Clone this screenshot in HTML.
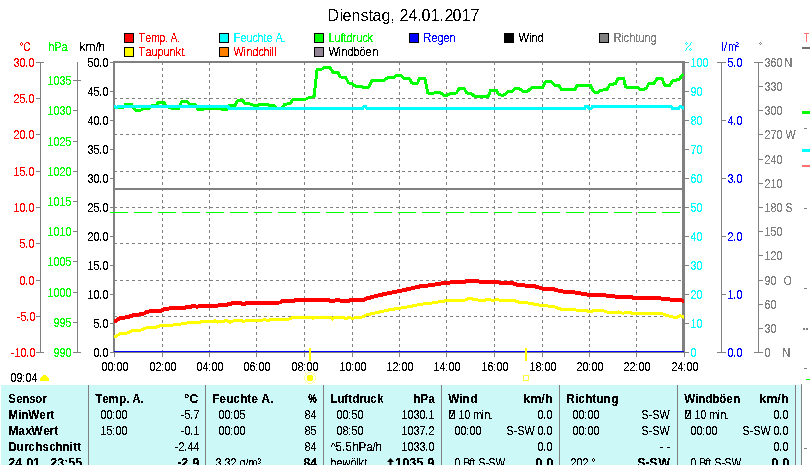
<!DOCTYPE html>
<html><head><meta charset="utf-8"><title>Dienstag, 24.01.2017</title>
<style>
html,body{margin:0;padding:0;background:#fff;}
body{width:810px;height:465px;overflow:hidden;}
svg{display:block;font-family:"Liberation Sans",sans-serif;}
text{white-space:pre;}
</style></head><body>
<svg width="810" height="465" viewBox="0 0 810 465">
<defs><filter id="crisp" x="-5%" y="-50%" width="110%" height="200%" color-interpolation-filters="sRGB"><feComponentTransfer><feFuncA type="discrete" tableValues="0 0 1 1 1"/></feComponentTransfer></filter><filter id="crisp5" x="-5%" y="-50%" width="110%" height="200%" color-interpolation-filters="sRGB"><feComponentTransfer><feFuncA type="discrete" tableValues="0 1"/></feComponentTransfer></filter></defs>
<rect width="810" height="465" fill="#fff"/>
<text transform="translate(327.50,21.00) scale(1.0000,1)" x="0.000 12.000 15.000 24.000 33.000 41.000 45.000 54.000 63.000 68.000 72.000 81.000 90.000 94.000 103.000 112.000 117.000 125.000 134.000 143.000" y="0" fill="#000" font-size="16" filter="url(#crisp5)">Dienstag, 24.01.2017</text>
<rect x="124" y="33" width="10" height="10" fill="#000"/>
<rect x="125" y="34" width="8" height="8" fill="#ff0000"/>
<text transform="translate(138.50,42.00) scale(0.8550,1)" x="0.000 8.187 15.205 24.561 31.579 35.088 37.427 45.614" y="0" fill="#ff0000" font-size="12" filter="url(#crisp5)" stroke="#ff0000" stroke-width="0.15">Temp. A.</text>
<rect x="124" y="47" width="10" height="10" fill="#000"/>
<rect x="125" y="48" width="8" height="8" fill="#ffff00"/>
<text transform="translate(138.50,56.00) scale(0.9150,1)" x="0.000 7.650 14.208 20.765 27.322 33.880 40.437 46.995" y="0" fill="#ff0000" font-size="12" filter="url(#crisp5)" stroke="#ff0000" stroke-width="0.15">Taupunkt</text>
<rect x="219" y="33" width="10" height="10" fill="#000"/>
<rect x="220" y="34" width="8" height="8" fill="#00ffff"/>
<text transform="translate(233.50,42.00) scale(0.9000,1)" x="0.000 7.778 14.444 21.111 26.667 33.333 36.667 43.333 46.667 54.444" y="0" fill="#00ffff" font-size="12" filter="url(#crisp5)" stroke="#00ffff" stroke-width="0.15">Feuchte A.</text>
<rect x="219" y="47" width="10" height="10" fill="#000"/>
<rect x="220" y="48" width="8" height="8" fill="#ff8000"/>
<text transform="translate(233.50,56.00) scale(0.9000,1)" x="0.000 11.111 14.444 21.111 27.778 33.333 40.000 42.222 45.556" y="0" fill="#ff0000" font-size="12" filter="url(#crisp5)" stroke="#ff0000" stroke-width="0.15">Windchill</text>
<rect x="314" y="33" width="10" height="10" fill="#000"/>
<rect x="315" y="34" width="8" height="8" fill="#00ff00"/>
<text transform="translate(328.50,42.00) scale(0.9000,1)" x="0.000 6.667 13.333 16.667 20.000 26.667 31.111 37.778 43.333" y="0" fill="#00ff00" font-size="12" filter="url(#crisp5)" stroke="#00ff00" stroke-width="0.15">Luftdruck</text>
<rect x="314" y="47" width="10" height="10" fill="#000"/>
<rect x="315" y="48" width="8" height="8" fill="#928494"/>
<text transform="translate(328.50,56.00) scale(0.9200,1)" x="0.000 10.870 14.130 20.652 27.174 33.696 40.217 47.826" y="0" fill="#000000" font-size="12" filter="url(#crisp5)" stroke="#000000" stroke-width="0.15">Windböen</text>
<rect x="409" y="33" width="10" height="10" fill="#000"/>
<rect x="410" y="34" width="8" height="8" fill="#0000ff"/>
<text transform="translate(423.50,42.00) scale(0.9000,1)" x="0.000 8.889 15.556 22.222 28.889" y="0" fill="#0000ff" font-size="12" filter="url(#crisp5)" stroke="#0000ff" stroke-width="0.15">Regen</text>
<rect x="504" y="33" width="10" height="10" fill="#000"/>
<rect x="505" y="34" width="8" height="8" fill="#000000"/>
<text transform="translate(518.50,42.00) scale(0.9400,1)" x="0.000 11.702 13.830 20.213" y="0" fill="#000000" font-size="12" filter="url(#crisp5)" stroke="#000000" stroke-width="0.15">Wind</text>
<rect x="599" y="33" width="10" height="10" fill="#000"/>
<rect x="600" y="34" width="8" height="8" fill="#808080"/>
<text transform="translate(613.50,42.00) scale(0.9150,1)" x="0.000 8.743 10.929 17.486 24.044 27.322 33.880 40.437" y="0" fill="#808080" font-size="12" filter="url(#crisp5)" stroke="#808080" stroke-width="0.15">Richtung</text>
<text transform="translate(19.50,51.00) scale(0.8000,1)" x="0.000 5.000" y="0" fill="#ff0000" font-size="12" filter="url(#crisp5)" stroke="#ff0000" stroke-width="0.15">°C</text>
<text transform="translate(48.50,51.00) scale(0.9000,1)" x="0.000 6.667 14.444" y="0" fill="#00ff00" font-size="12" filter="url(#crisp5)" stroke="#00ff00" stroke-width="0.15">hPa</text>
<text transform="translate(79.50,51.00) scale(1.0000,1)" x="0.000 6.000 16.000 19.000" y="0" fill="#000" font-size="12" filter="url(#crisp5)" stroke="#000" stroke-width="0.15">km/h</text>
<rect x="40" y="62" width="1" height="291" fill="#808080"/>
<rect x="36" y="62" width="8" height="1" fill="#808080"/>
<text transform="translate(13.50,67.00) scale(0.9000,1)" x="0.000 6.667 12.889 16.667" y="0" fill="#ff0000" font-size="12" filter="url(#crisp5)" stroke="#ff0000" stroke-width="0.15">30.0</text>
<rect x="36" y="98" width="4" height="1" fill="#808080"/>
<text transform="translate(13.50,103.00) scale(0.9000,1)" x="0.000 6.667 12.889 16.667" y="0" fill="#ff0000" font-size="12" filter="url(#crisp5)" stroke="#ff0000" stroke-width="0.15">25.0</text>
<rect x="36" y="134" width="4" height="1" fill="#808080"/>
<text transform="translate(13.50,139.00) scale(0.9000,1)" x="0.000 6.667 12.889 16.667" y="0" fill="#ff0000" font-size="12" filter="url(#crisp5)" stroke="#ff0000" stroke-width="0.15">20.0</text>
<rect x="36" y="171" width="4" height="1" fill="#808080"/>
<text transform="translate(13.50,176.00) scale(0.9000,1)" x="0.000 6.667 12.889 16.667" y="0" fill="#ff0000" font-size="12" filter="url(#crisp5)" stroke="#ff0000" stroke-width="0.15">15.0</text>
<rect x="36" y="207" width="4" height="1" fill="#808080"/>
<text transform="translate(13.50,212.00) scale(0.9000,1)" x="0.000 6.667 12.889 16.667" y="0" fill="#ff0000" font-size="12" filter="url(#crisp5)" stroke="#ff0000" stroke-width="0.15">10.0</text>
<rect x="36" y="243" width="4" height="1" fill="#808080"/>
<text transform="translate(19.50,248.00) scale(0.9000,1)" x="0.000 6.222 10.000" y="0" fill="#ff0000" font-size="12" filter="url(#crisp5)" stroke="#ff0000" stroke-width="0.15">5.0</text>
<rect x="36" y="280" width="4" height="1" fill="#808080"/>
<text transform="translate(19.50,285.00) scale(0.9000,1)" x="0.000 6.222 10.000" y="0" fill="#ff0000" font-size="12" filter="url(#crisp5)" stroke="#ff0000" stroke-width="0.15">0.0</text>
<rect x="36" y="316" width="4" height="1" fill="#808080"/>
<text transform="translate(16.50,321.00) scale(0.9000,1)" x="0.000 4.444 10.667 14.444" y="0" fill="#ff0000" font-size="12" filter="url(#crisp5)" stroke="#ff0000" stroke-width="0.15">-5.0</text>
<rect x="36" y="352" width="8" height="1" fill="#808080"/>
<text transform="translate(10.50,357.00) scale(0.9000,1)" x="0.000 4.444 11.111 17.333 21.111" y="0" fill="#ff0000" font-size="12" filter="url(#crisp5)" stroke="#ff0000" stroke-width="0.15">-10.0</text>
<rect x="77" y="62" width="1" height="291" fill="#808080"/>
<rect x="73" y="80" width="8" height="1" fill="#808080"/>
<text transform="translate(47.50,85.00) scale(0.9000,1)" x="0.000 6.667 13.333 20.000" y="0" fill="#00ff00" font-size="12" filter="url(#crisp5)" stroke="#00ff00" stroke-width="0.15">1035</text>
<rect x="73" y="110" width="4" height="1" fill="#808080"/>
<text transform="translate(47.50,115.00) scale(0.9000,1)" x="0.000 6.667 13.333 20.000" y="0" fill="#00ff00" font-size="12" filter="url(#crisp5)" stroke="#00ff00" stroke-width="0.15">1030</text>
<rect x="73" y="141" width="4" height="1" fill="#808080"/>
<text transform="translate(47.50,146.00) scale(0.9000,1)" x="0.000 6.667 13.333 20.000" y="0" fill="#00ff00" font-size="12" filter="url(#crisp5)" stroke="#00ff00" stroke-width="0.15">1025</text>
<rect x="73" y="171" width="4" height="1" fill="#808080"/>
<text transform="translate(47.50,176.00) scale(0.9000,1)" x="0.000 6.667 13.333 20.000" y="0" fill="#00ff00" font-size="12" filter="url(#crisp5)" stroke="#00ff00" stroke-width="0.15">1020</text>
<rect x="73" y="201" width="4" height="1" fill="#808080"/>
<text transform="translate(47.50,206.00) scale(0.9000,1)" x="0.000 6.667 13.333 20.000" y="0" fill="#00ff00" font-size="12" filter="url(#crisp5)" stroke="#00ff00" stroke-width="0.15">1015</text>
<rect x="73" y="231" width="4" height="1" fill="#808080"/>
<text transform="translate(47.50,236.00) scale(0.9000,1)" x="0.000 6.667 13.333 20.000" y="0" fill="#00ff00" font-size="12" filter="url(#crisp5)" stroke="#00ff00" stroke-width="0.15">1010</text>
<rect x="73" y="261" width="4" height="1" fill="#808080"/>
<text transform="translate(47.50,266.00) scale(0.9000,1)" x="0.000 6.667 13.333 20.000" y="0" fill="#00ff00" font-size="12" filter="url(#crisp5)" stroke="#00ff00" stroke-width="0.15">1005</text>
<rect x="73" y="292" width="4" height="1" fill="#808080"/>
<text transform="translate(47.50,297.00) scale(0.9000,1)" x="0.000 6.667 13.333 20.000" y="0" fill="#00ff00" font-size="12" filter="url(#crisp5)" stroke="#00ff00" stroke-width="0.15">1000</text>
<rect x="73" y="322" width="4" height="1" fill="#808080"/>
<text transform="translate(53.50,327.00) scale(0.9000,1)" x="0.000 6.667 13.333" y="0" fill="#00ff00" font-size="12" filter="url(#crisp5)" stroke="#00ff00" stroke-width="0.15">995</text>
<rect x="73" y="352" width="8" height="1" fill="#808080"/>
<text transform="translate(53.50,357.00) scale(0.9000,1)" x="0.000 6.667 13.333" y="0" fill="#00ff00" font-size="12" filter="url(#crisp5)" stroke="#00ff00" stroke-width="0.15">990</text>
<rect x="110" y="62" width="3" height="1" fill="#808080"/>
<text transform="translate(87.50,67.00) scale(0.9000,1)" x="0.000 6.667 12.889 16.667" y="0" fill="#000" font-size="12" filter="url(#crisp5)" stroke="#000" stroke-width="0.15">50.0</text>
<rect x="110" y="91" width="3" height="1" fill="#808080"/>
<text transform="translate(87.50,96.00) scale(0.9000,1)" x="0.000 6.667 12.889 16.667" y="0" fill="#000" font-size="12" filter="url(#crisp5)" stroke="#000" stroke-width="0.15">45.0</text>
<rect x="110" y="120" width="3" height="1" fill="#808080"/>
<text transform="translate(87.50,125.00) scale(0.9000,1)" x="0.000 6.667 12.889 16.667" y="0" fill="#000" font-size="12" filter="url(#crisp5)" stroke="#000" stroke-width="0.15">40.0</text>
<rect x="110" y="149" width="3" height="1" fill="#808080"/>
<text transform="translate(87.50,154.00) scale(0.9000,1)" x="0.000 6.667 12.889 16.667" y="0" fill="#000" font-size="12" filter="url(#crisp5)" stroke="#000" stroke-width="0.15">35.0</text>
<rect x="110" y="178" width="3" height="1" fill="#808080"/>
<text transform="translate(87.50,183.00) scale(0.9000,1)" x="0.000 6.667 12.889 16.667" y="0" fill="#000" font-size="12" filter="url(#crisp5)" stroke="#000" stroke-width="0.15">30.0</text>
<rect x="110" y="207" width="3" height="1" fill="#808080"/>
<text transform="translate(87.50,212.00) scale(0.9000,1)" x="0.000 6.667 12.889 16.667" y="0" fill="#000" font-size="12" filter="url(#crisp5)" stroke="#000" stroke-width="0.15">25.0</text>
<rect x="110" y="236" width="3" height="1" fill="#808080"/>
<text transform="translate(87.50,241.00) scale(0.9000,1)" x="0.000 6.667 12.889 16.667" y="0" fill="#000" font-size="12" filter="url(#crisp5)" stroke="#000" stroke-width="0.15">20.0</text>
<rect x="110" y="265" width="3" height="1" fill="#808080"/>
<text transform="translate(87.50,270.00) scale(0.9000,1)" x="0.000 6.667 12.889 16.667" y="0" fill="#000" font-size="12" filter="url(#crisp5)" stroke="#000" stroke-width="0.15">15.0</text>
<rect x="110" y="294" width="3" height="1" fill="#808080"/>
<text transform="translate(87.50,299.00) scale(0.9000,1)" x="0.000 6.667 12.889 16.667" y="0" fill="#000" font-size="12" filter="url(#crisp5)" stroke="#000" stroke-width="0.15">10.0</text>
<rect x="110" y="323" width="3" height="1" fill="#808080"/>
<text transform="translate(93.50,328.00) scale(0.9000,1)" x="0.000 6.222 10.000" y="0" fill="#000" font-size="12" filter="url(#crisp5)" stroke="#000" stroke-width="0.15">5.0</text>
<rect x="110" y="352" width="3" height="1" fill="#808080"/>
<text transform="translate(93.50,357.00) scale(0.9000,1)" x="0.000 6.222 10.000" y="0" fill="#000" font-size="12" filter="url(#crisp5)" stroke="#000" stroke-width="0.15">0.0</text>
<path d="M686 42h1v1h-1zM691 42h1v1h-1zM685 43h1v1h-1zM687 43h1v1h-1zM690 43h1v1h-1zM686 44h1v1h-1zM690 44h1v1h-1zM689 45h1v1h-1zM688 46h1v1h-1zM687 47h1v1h-1zM686 48h1v1h-1zM690 48h1v1h-1zM686 49h1v1h-1zM689 49h1v1h-1zM691 49h1v1h-1zM685 50h1v1h-1zM690 50h1v1h-1z" fill="#00ffff" shape-rendering="crispEdges"/>
<path d="M722 42h1v1h-1zM726 42h1v1h-1zM736 42h2v1h-2zM722 43h1v1h-1zM726 43h1v1h-1zM738 43h1v1h-1zM722 44h1v1h-1zM726 44h1v1h-1zM729 44h3v1h-3zM733 44h2v1h-2zM737 44h1v1h-1zM722 45h1v1h-1zM725 45h1v1h-1zM729 45h1v1h-1zM732 45h1v1h-1zM735 45h2v1h-2zM722 46h1v1h-1zM725 46h1v1h-1zM729 46h1v1h-1zM732 46h1v1h-1zM735 46h4v1h-4zM722 47h1v1h-1zM725 47h1v1h-1zM729 47h1v1h-1zM732 47h1v1h-1zM735 47h1v1h-1zM722 48h1v1h-1zM724 48h1v1h-1zM729 48h1v1h-1zM732 48h1v1h-1zM735 48h1v1h-1zM722 49h1v1h-1zM724 49h1v1h-1zM729 49h1v1h-1zM732 49h1v1h-1zM735 49h1v1h-1zM722 50h1v1h-1zM724 50h1v1h-1zM729 50h1v1h-1zM732 50h1v1h-1zM735 50h1v1h-1z" fill="#0000ff" shape-rendering="crispEdges"/>
<path d="M760 42h1v1h-1zM759 43h1v1h-1zM761 43h1v1h-1zM760 44h1v1h-1z" fill="#808080" shape-rendering="crispEdges"/>
<rect x="685" y="62" width="4" height="1" fill="#808080"/>
<text transform="translate(690.50,67.00) scale(0.9000,1)" x="0.000 6.667 13.333" y="0" fill="#00ffff" font-size="12" filter="url(#crisp5)" stroke="#00ffff" stroke-width="0.15">100</text>
<rect x="685" y="91" width="4" height="1" fill="#808080"/>
<text transform="translate(690.50,96.00) scale(0.9000,1)" x="0.000 6.667" y="0" fill="#00ffff" font-size="12" filter="url(#crisp5)" stroke="#00ffff" stroke-width="0.15">90</text>
<rect x="685" y="120" width="4" height="1" fill="#808080"/>
<text transform="translate(690.50,125.00) scale(0.9000,1)" x="0.000 6.667" y="0" fill="#00ffff" font-size="12" filter="url(#crisp5)" stroke="#00ffff" stroke-width="0.15">80</text>
<rect x="685" y="149" width="4" height="1" fill="#808080"/>
<text transform="translate(690.50,154.00) scale(0.9000,1)" x="0.000 6.667" y="0" fill="#00ffff" font-size="12" filter="url(#crisp5)" stroke="#00ffff" stroke-width="0.15">70</text>
<rect x="685" y="178" width="4" height="1" fill="#808080"/>
<text transform="translate(690.50,183.00) scale(0.9000,1)" x="0.000 6.667" y="0" fill="#00ffff" font-size="12" filter="url(#crisp5)" stroke="#00ffff" stroke-width="0.15">60</text>
<rect x="685" y="207" width="4" height="1" fill="#808080"/>
<text transform="translate(690.50,212.00) scale(0.9000,1)" x="0.000 6.667" y="0" fill="#00ffff" font-size="12" filter="url(#crisp5)" stroke="#00ffff" stroke-width="0.15">50</text>
<rect x="685" y="236" width="4" height="1" fill="#808080"/>
<text transform="translate(690.50,241.00) scale(0.9000,1)" x="0.000 6.667" y="0" fill="#00ffff" font-size="12" filter="url(#crisp5)" stroke="#00ffff" stroke-width="0.15">40</text>
<rect x="685" y="265" width="4" height="1" fill="#808080"/>
<text transform="translate(690.50,270.00) scale(0.9000,1)" x="0.000 6.667" y="0" fill="#00ffff" font-size="12" filter="url(#crisp5)" stroke="#00ffff" stroke-width="0.15">30</text>
<rect x="685" y="294" width="4" height="1" fill="#808080"/>
<text transform="translate(690.50,299.00) scale(0.9000,1)" x="0.000 6.667" y="0" fill="#00ffff" font-size="12" filter="url(#crisp5)" stroke="#00ffff" stroke-width="0.15">20</text>
<rect x="685" y="323" width="4" height="1" fill="#808080"/>
<text transform="translate(690.50,328.00) scale(0.9000,1)" x="0.000 6.667" y="0" fill="#00ffff" font-size="12" filter="url(#crisp5)" stroke="#00ffff" stroke-width="0.15">10</text>
<rect x="685" y="352" width="4" height="1" fill="#808080"/>
<text transform="translate(690.50,357.00) scale(0.9000,1)" x="0.000" y="0" fill="#00ffff" font-size="12" filter="url(#crisp5)" stroke="#00ffff" stroke-width="0.15">0</text>
<rect x="721" y="62" width="1" height="291" fill="#808080"/>
<rect x="717" y="62" width="9" height="1" fill="#808080"/>
<text transform="translate(727.50,67.00) scale(0.9000,1)" x="0.000 6.222 10.000" y="0" fill="#0000ff" font-size="12" filter="url(#crisp5)" stroke="#0000ff" stroke-width="0.15">5.0</text>
<rect x="721" y="120" width="5" height="1" fill="#808080"/>
<text transform="translate(727.50,125.00) scale(0.9000,1)" x="0.000 6.222 10.000" y="0" fill="#0000ff" font-size="12" filter="url(#crisp5)" stroke="#0000ff" stroke-width="0.15">4.0</text>
<rect x="721" y="178" width="5" height="1" fill="#808080"/>
<text transform="translate(727.50,183.00) scale(0.9000,1)" x="0.000 6.222 10.000" y="0" fill="#0000ff" font-size="12" filter="url(#crisp5)" stroke="#0000ff" stroke-width="0.15">3.0</text>
<rect x="721" y="236" width="5" height="1" fill="#808080"/>
<text transform="translate(727.50,241.00) scale(0.9000,1)" x="0.000 6.222 10.000" y="0" fill="#0000ff" font-size="12" filter="url(#crisp5)" stroke="#0000ff" stroke-width="0.15">2.0</text>
<rect x="721" y="294" width="5" height="1" fill="#808080"/>
<text transform="translate(727.50,299.00) scale(0.9000,1)" x="0.000 6.222 10.000" y="0" fill="#0000ff" font-size="12" filter="url(#crisp5)" stroke="#0000ff" stroke-width="0.15">1.0</text>
<rect x="717" y="352" width="9" height="1" fill="#808080"/>
<text transform="translate(727.50,357.00) scale(0.9000,1)" x="0.000 6.222 10.000" y="0" fill="#0000ff" font-size="12" filter="url(#crisp5)" stroke="#0000ff" stroke-width="0.15">0.0</text>
<rect x="758" y="62" width="1" height="291" fill="#808080"/>
<rect x="754" y="62" width="9" height="1" fill="#808080"/>
<text transform="translate(764.50,67.00) scale(0.9000,1)" x="0.000 6.667 13.333" y="0" fill="#808080" font-size="12" filter="url(#crisp5)" stroke="#808080" stroke-width="0.15">360</text>
<text transform="translate(784.50,67.00) scale(0.9000,1)" x="0.000" y="0" fill="#808080" font-size="12" filter="url(#crisp5)" stroke="#808080" stroke-width="0.15">N</text>
<rect x="758" y="86" width="5" height="1" fill="#808080"/>
<text transform="translate(764.50,91.00) scale(0.9000,1)" x="0.000 6.667 13.333" y="0" fill="#808080" font-size="12" filter="url(#crisp5)" stroke="#808080" stroke-width="0.15">330</text>
<rect x="758" y="110" width="5" height="1" fill="#808080"/>
<text transform="translate(764.50,115.00) scale(0.9000,1)" x="0.000 6.667 13.333" y="0" fill="#808080" font-size="12" filter="url(#crisp5)" stroke="#808080" stroke-width="0.15">300</text>
<rect x="758" y="134" width="5" height="1" fill="#808080"/>
<text transform="translate(764.50,139.00) scale(0.9000,1)" x="0.000 6.667 13.333" y="0" fill="#808080" font-size="12" filter="url(#crisp5)" stroke="#808080" stroke-width="0.15">270</text>
<text transform="translate(785.50,139.00) scale(0.9000,1)" x="0.000" y="0" fill="#808080" font-size="12" filter="url(#crisp5)" stroke="#808080" stroke-width="0.15">W</text>
<rect x="758" y="159" width="5" height="1" fill="#808080"/>
<text transform="translate(764.50,164.00) scale(0.9000,1)" x="0.000 6.667 13.333" y="0" fill="#808080" font-size="12" filter="url(#crisp5)" stroke="#808080" stroke-width="0.15">240</text>
<rect x="758" y="183" width="5" height="1" fill="#808080"/>
<text transform="translate(764.50,188.00) scale(0.9000,1)" x="0.000 6.667 13.333" y="0" fill="#808080" font-size="12" filter="url(#crisp5)" stroke="#808080" stroke-width="0.15">210</text>
<rect x="758" y="207" width="5" height="1" fill="#808080"/>
<text transform="translate(764.50,212.00) scale(0.9000,1)" x="0.000 6.667 13.333" y="0" fill="#808080" font-size="12" filter="url(#crisp5)" stroke="#808080" stroke-width="0.15">180</text>
<text transform="translate(785.50,212.00) scale(0.9000,1)" x="0.000" y="0" fill="#808080" font-size="12" filter="url(#crisp5)" stroke="#808080" stroke-width="0.15">S</text>
<rect x="758" y="231" width="5" height="1" fill="#808080"/>
<text transform="translate(764.50,236.00) scale(0.9000,1)" x="0.000 6.667 13.333" y="0" fill="#808080" font-size="12" filter="url(#crisp5)" stroke="#808080" stroke-width="0.15">150</text>
<rect x="758" y="255" width="5" height="1" fill="#808080"/>
<text transform="translate(764.50,260.00) scale(0.9000,1)" x="0.000 6.667 13.333" y="0" fill="#808080" font-size="12" filter="url(#crisp5)" stroke="#808080" stroke-width="0.15">120</text>
<rect x="758" y="280" width="5" height="1" fill="#808080"/>
<text transform="translate(764.50,285.00) scale(0.9000,1)" x="0.000 6.667" y="0" fill="#808080" font-size="12" filter="url(#crisp5)" stroke="#808080" stroke-width="0.15">90</text>
<text transform="translate(783.50,285.00) scale(0.9000,1)" x="0.000" y="0" fill="#808080" font-size="12" filter="url(#crisp5)" stroke="#808080" stroke-width="0.15">O</text>
<rect x="758" y="304" width="5" height="1" fill="#808080"/>
<text transform="translate(764.50,309.00) scale(0.9000,1)" x="0.000 6.667" y="0" fill="#808080" font-size="12" filter="url(#crisp5)" stroke="#808080" stroke-width="0.15">60</text>
<rect x="758" y="328" width="5" height="1" fill="#808080"/>
<text transform="translate(764.50,333.00) scale(0.9000,1)" x="0.000 6.667" y="0" fill="#808080" font-size="12" filter="url(#crisp5)" stroke="#808080" stroke-width="0.15">30</text>
<rect x="754" y="352" width="9" height="1" fill="#808080"/>
<text transform="translate(764.50,357.00) scale(0.9000,1)" x="0.000" y="0" fill="#808080" font-size="12" filter="url(#crisp5)" stroke="#808080" stroke-width="0.15">0</text>
<text transform="translate(782.50,357.00) scale(0.9000,1)" x="0.000" y="0" fill="#808080" font-size="12" filter="url(#crisp5)" stroke="#808080" stroke-width="0.15">N</text>
<g shape-rendering="crispEdges">
<line x1="162.5" y1="62" x2="162.5" y2="352" stroke="#808080" stroke-width="1" stroke-dasharray="3 3"/>
<line x1="209.5" y1="62" x2="209.5" y2="352" stroke="#808080" stroke-width="1" stroke-dasharray="3 3"/>
<line x1="256.5" y1="62" x2="256.5" y2="352" stroke="#808080" stroke-width="1" stroke-dasharray="3 3"/>
<line x1="304.5" y1="62" x2="304.5" y2="352" stroke="#808080" stroke-width="1" stroke-dasharray="3 3"/>
<line x1="352.5" y1="62" x2="352.5" y2="352" stroke="#808080" stroke-width="1" stroke-dasharray="3 3"/>
<line x1="399.5" y1="62" x2="399.5" y2="352" stroke="#808080" stroke-width="1" stroke-dasharray="3 3"/>
<line x1="446.5" y1="62" x2="446.5" y2="352" stroke="#808080" stroke-width="1" stroke-dasharray="3 3"/>
<line x1="494.5" y1="62" x2="494.5" y2="352" stroke="#808080" stroke-width="1" stroke-dasharray="3 3"/>
<line x1="542.5" y1="62" x2="542.5" y2="352" stroke="#808080" stroke-width="1" stroke-dasharray="3 3"/>
<line x1="589.5" y1="62" x2="589.5" y2="352" stroke="#808080" stroke-width="1" stroke-dasharray="3 3"/>
<line x1="636.5" y1="62" x2="636.5" y2="352" stroke="#808080" stroke-width="1" stroke-dasharray="3 3"/>
<line x1="114" y1="98.5" x2="683" y2="98.5" stroke="#808080" stroke-width="1" stroke-dasharray="3 3"/>
<line x1="114" y1="134.5" x2="683" y2="134.5" stroke="#808080" stroke-width="1" stroke-dasharray="3 3"/>
<line x1="114" y1="171.5" x2="683" y2="171.5" stroke="#808080" stroke-width="1" stroke-dasharray="3 3"/>
<line x1="114" y1="207.5" x2="683" y2="207.5" stroke="#808080" stroke-width="1" stroke-dasharray="3 3"/>
<line x1="114" y1="243.5" x2="683" y2="243.5" stroke="#808080" stroke-width="1" stroke-dasharray="3 3"/>
<line x1="114" y1="280.5" x2="683" y2="280.5" stroke="#808080" stroke-width="1" stroke-dasharray="3 3"/>
<line x1="114" y1="316.5" x2="683" y2="316.5" stroke="#808080" stroke-width="1" stroke-dasharray="3 3"/>
</g>
<rect x="113" y="61" width="2" height="292" fill="#808080"/>
<rect x="682" y="61" width="3" height="292" fill="#808080"/>
<rect x="113" y="61" width="572" height="2" fill="#808080"/>
<rect x="115" y="188" width="568" height="2" fill="#808080"/>
<line x1="110" y1="212.5" x2="684" y2="212.5" stroke="#00ff00" stroke-width="1" stroke-dasharray="18 6" shape-rendering="crispEdges"/>
<clipPath id="plotclip"><rect x="114" y="63" width="570" height="290"/></clipPath><g clip-path="url(#plotclip)">
<polyline points="114.6,107.3 124.0,107.0 125.8,104.0 131.5,104.0 133.5,108.0 135.5,110.2 140.6,110.2 143.3,108.7 148.9,108.3 151.7,105.9 156.3,105.4 158.5,102.2 163.7,102.2 165.6,105.9 171.0,107.8 173.0,108.7 178.5,108.7 181.3,102.2 183.0,101.0 186.9,101.0 189.6,104.0 195.2,104.6 198.0,109.3 203.5,109.3 205.0,108.5 219.8,108.5 221.0,109.1 227.8,109.1 229.0,105.8 235.2,105.4 237.0,101.1 238.3,100.1 242.6,100.1 245.0,103.6 251.9,104.2 253.0,105.0 258.6,105.0 260.5,104.4 267.3,104.4 268.5,105.2 274.0,105.2 276.5,108.0 282.0,108.0 284.6,104.2 290.0,103.8 292.6,99.6 299.4,99.4 304.0,100.0 308.7,97.6 314.0,96.7 315.0,88.0 317.0,69.8 322.6,68.9 324.4,67.6 330.0,67.6 332.8,72.2 338.3,72.6 340.0,76.9 345.7,77.6 348.5,82.8 352.0,83.7 356.0,86.5 362.4,86.9 364.0,87.8 369.0,86.9 371.7,80.6 377.0,80.0 382.8,81.0 387.4,78.0 393.0,77.8 396.7,75.0 401.0,75.4 403.7,78.1 409.3,78.7 412.0,83.1 417.6,83.1 419.4,78.7 425.0,78.7 427.8,93.0 433.3,93.5 435.0,92.4 439.8,92.6 444.4,95.4 447.2,95.4 450.0,93.5 456.5,93.0 459.3,88.0 463.9,88.0 466.7,93.0 471.3,93.5 475.0,96.7 488.0,96.7 490.7,90.2 496.3,90.2 499.0,94.8 503.7,95.2 507.4,92.0 512.0,91.7 514.8,88.7 519.4,88.7 523.0,91.1 527.8,91.1 531.5,87.8 542.6,87.4 545.4,81.9 551.5,81.9 554.3,85.0 558.9,85.6 561.7,89.8 574.6,89.8 577.4,85.2 590.4,85.2 594.0,92.0 598.7,92.0 600.6,90.2 607.0,89.6 609.8,84.6 615.4,83.7 618.0,78.5 623.7,78.5 625.6,87.0 637.6,87.4 640.4,89.3 646.0,88.9 648.7,83.7 654.3,83.1 657.0,78.5 662.0,78.5 665.0,85.6 669.4,85.6 672.4,80.9 679.3,79.4 682.4,75.0" fill="none" stroke="#00ff00" stroke-width="3" stroke-linejoin="round" stroke-linecap="round" shape-rendering="crispEdges"/>
<polyline points="114.0,106.8 115.5,106.8 116.5,107.5 118.0,106.5 228.0,106.5 229.0,108.5 362.5,108.5 364.0,106.5 365.5,106.5 367.0,108.5 584.5,108.5 585.5,106.5 588.0,106.5 589.0,108.5 591.0,108.5 592.5,106.5 671.0,106.5 672.5,108.5 678.5,108.5 680.0,106.5 681.0,106.5 683.8,108.3" fill="none" stroke="#00ffff" stroke-width="3" stroke-linejoin="round" stroke-linecap="round" shape-rendering="crispEdges"/>
<polyline points="114.8,336.8 120.6,333.5 128.4,332.9 132.3,330.4 141.0,330.0 145.8,328.0 154.5,327.7 160.3,325.7 176.8,324.8 191.3,322.3 197.0,322.8 201.0,321.9 212.6,321.9 215.5,320.7 217.4,322.3 220.3,321.3 224.2,321.3 226.0,320.3 230.0,322.3 233.9,320.7 241.6,320.7 243.5,321.7 245.5,320.7 265.6,319.9 268.0,320.7 270.5,319.4 289.8,319.0 292.7,317.4 311.0,317.4 313.0,318.4 315.0,317.4 330.5,317.4 332.4,319.0 334.4,317.4 344.0,317.8 346.3,319.0 348.9,317.4 352.7,318.4 355.6,317.4 362.4,317.0 366.3,314.9 377.0,312.6 388.5,310.0 400.2,308.1 411.6,306.2 419.4,304.4 432.9,302.9 444.5,301.0 446.4,300.0 463.9,300.4 469.7,298.0 474.5,299.6 483.2,300.6 488.0,299.4 492.9,300.4 496.8,299.6 502.6,300.6 514.2,300.4 519.0,302.3 527.7,302.9 535.5,304.4 543.2,305.8 552.7,306.2 560.5,309.1 574.0,309.7 583.7,311.0 586.6,310.3 589.5,312.0 593.4,310.6 603.0,310.6 607.0,312.0 615.6,313.0 618.5,312.0 622.4,313.2 629.2,312.2 632.0,313.2 657.3,313.5 661.0,313.0 665.0,314.9 672.7,317.0 677.6,317.0 680.0,315.5 683.4,317.0" fill="none" stroke="#ffff00" stroke-width="3" stroke-linejoin="round" stroke-linecap="round" shape-rendering="crispEdges"/>
<polyline points="114.8,321.3 119.7,318.4 128.4,317.0 133.2,315.1 142.9,314.1 147.7,311.6 161.3,310.6 165.2,308.7 177.7,308.1 189.4,307.2 193.2,305.8 197.0,306.8 201.0,305.8 224.2,305.4 233.9,302.9 239.7,302.9 243.5,304.3 247.4,302.9 280.2,302.5 282.0,301.4 292.7,301.0 294.7,300.4 329.5,300.4 332.4,301.5 335.3,300.4 344.0,300.6 347.0,301.5 349.8,300.4 362.4,300.4 366.3,298.6 377.0,295.7 388.5,293.2 400.2,290.9 409.7,288.8 419.4,286.5 432.9,284.9 446.4,282.6 461.9,282.2 466.8,281.2 472.6,281.2 489.0,282.0 512.3,283.2 518.0,284.9 535.5,286.5 543.2,288.8 552.7,289.0 560.5,291.3 574.0,292.3 587.6,294.6 603.0,295.2 616.6,296.7 630.2,297.1 636.0,298.1 661.0,298.5 670.8,299.6 683.4,300.6" fill="none" stroke="#ff0000" stroke-width="4" stroke-linejoin="round" stroke-linecap="round" shape-rendering="crispEdges"/>
</g>
<rect x="115" y="352" width="569" height="1" fill="#808080"/>
<rect x="114" y="351" width="570" height="1" fill="#0000ff"/>
<rect x="114" y="352" width="1" height="5" fill="#808080"/>
<text transform="translate(101.50,371.00) scale(0.9158,1)" x="0.000 6.552 12.666 16.379 22.931" y="0" fill="#000" font-size="12" filter="url(#crisp5)" stroke="#000" stroke-width="0.15">00:00</text>
<rect x="162" y="352" width="1" height="5" fill="#808080"/>
<text transform="translate(149.50,371.00) scale(0.9158,1)" x="0.000 6.552 12.666 16.379 22.931" y="0" fill="#000" font-size="12" filter="url(#crisp5)" stroke="#000" stroke-width="0.15">02:00</text>
<rect x="209" y="352" width="1" height="5" fill="#808080"/>
<text transform="translate(196.50,371.00) scale(0.9158,1)" x="0.000 6.552 12.666 16.379 22.931" y="0" fill="#000" font-size="12" filter="url(#crisp5)" stroke="#000" stroke-width="0.15">04:00</text>
<rect x="256" y="352" width="1" height="5" fill="#808080"/>
<text transform="translate(243.50,371.00) scale(0.9158,1)" x="0.000 6.552 12.666 16.379 22.931" y="0" fill="#000" font-size="12" filter="url(#crisp5)" stroke="#000" stroke-width="0.15">06:00</text>
<rect x="304" y="352" width="1" height="5" fill="#808080"/>
<text transform="translate(291.50,371.00) scale(0.9158,1)" x="0.000 6.552 12.666 16.379 22.931" y="0" fill="#000" font-size="12" filter="url(#crisp5)" stroke="#000" stroke-width="0.15">08:00</text>
<rect x="352" y="352" width="1" height="5" fill="#808080"/>
<text transform="translate(339.50,371.00) scale(0.9158,1)" x="0.000 6.552 12.666 16.379 22.931" y="0" fill="#000" font-size="12" filter="url(#crisp5)" stroke="#000" stroke-width="0.15">10:00</text>
<rect x="399" y="352" width="1" height="5" fill="#808080"/>
<text transform="translate(386.50,371.00) scale(0.9158,1)" x="0.000 6.552 12.666 16.379 22.931" y="0" fill="#000" font-size="12" filter="url(#crisp5)" stroke="#000" stroke-width="0.15">12:00</text>
<rect x="446" y="352" width="1" height="5" fill="#808080"/>
<text transform="translate(433.50,371.00) scale(0.9158,1)" x="0.000 6.552 12.666 16.379 22.931" y="0" fill="#000" font-size="12" filter="url(#crisp5)" stroke="#000" stroke-width="0.15">14:00</text>
<rect x="494" y="352" width="1" height="5" fill="#808080"/>
<text transform="translate(481.50,371.00) scale(0.9158,1)" x="0.000 6.552 12.666 16.379 22.931" y="0" fill="#000" font-size="12" filter="url(#crisp5)" stroke="#000" stroke-width="0.15">16:00</text>
<rect x="542" y="352" width="1" height="5" fill="#808080"/>
<text transform="translate(529.50,371.00) scale(0.9158,1)" x="0.000 6.552 12.666 16.379 22.931" y="0" fill="#000" font-size="12" filter="url(#crisp5)" stroke="#000" stroke-width="0.15">18:00</text>
<rect x="589" y="352" width="1" height="5" fill="#808080"/>
<text transform="translate(576.50,371.00) scale(0.9158,1)" x="0.000 6.552 12.666 16.379 22.931" y="0" fill="#000" font-size="12" filter="url(#crisp5)" stroke="#000" stroke-width="0.15">20:00</text>
<rect x="636" y="352" width="1" height="5" fill="#808080"/>
<text transform="translate(623.50,371.00) scale(0.9158,1)" x="0.000 6.552 12.666 16.379 22.931" y="0" fill="#000" font-size="12" filter="url(#crisp5)" stroke="#000" stroke-width="0.15">22:00</text>
<rect x="684" y="352" width="1" height="5" fill="#808080"/>
<text transform="translate(671.50,371.00) scale(0.9158,1)" x="0.000 6.552 12.666 16.379 22.931" y="0" fill="#000" font-size="12" filter="url(#crisp5)" stroke="#000" stroke-width="0.15">24:00</text>
<rect x="309" y="348" width="2" height="13" fill="#ffff00"/>
<rect x="525" y="348" width="2" height="13" fill="#ffff00"/>
<path d="M308 372h4v1h-4zM305 373h1v1h-1zM307 373h1v1h-1zM312 373h1v1h-1zM314 373h1v1h-1zM306 374h1v1h-1zM313 374h1v1h-1zM305 375h1v1h-1zM307 375h1v1h-1zM312 375h1v1h-1zM314 375h1v1h-1zM304 376h1v1h-1zM315 376h1v1h-1zM304 377h1v1h-1zM315 377h1v1h-1zM304 378h1v1h-1zM315 378h1v1h-1zM304 379h1v1h-1zM315 379h1v1h-1zM305 380h1v1h-1zM307 380h1v1h-1zM312 380h1v1h-1zM314 380h1v1h-1zM306 381h1v1h-1zM313 381h1v1h-1zM305 382h1v1h-1zM307 382h1v1h-1zM312 382h1v1h-1zM314 382h1v1h-1zM308 383h4v1h-4z" fill="#ffff99" shape-rendering="crispEdges"/>
<path d="M308 375h4v1h-4zM307 376h6v1h-6zM307 377h6v1h-6zM307 378h6v1h-6zM307 379h6v1h-6zM308 380h4v1h-4z" fill="#ffff00" shape-rendering="crispEdges"/>
<rect x="523.5" y="375.5" width="5" height="5" fill="#fff" stroke="#ffff40" stroke-width="1"/>
<text transform="translate(10.50,382.00) scale(0.9158,1)" x="0.000 6.552 12.666 16.379 22.931" y="0" fill="#000" font-size="12" filter="url(#crisp5)" stroke="#000" stroke-width="0.15">09:04</text>
<path d="M43 375h3v1h-3zM42 376h5v1h-5zM41 377h7v1h-7zM40 378h9v1h-9zM40 379h9v1h-9zM40 380h9v1h-9z" fill="#ffff00" shape-rendering="crispEdges"/>
<rect x="1" y="385" width="794" height="80" fill="#ccf8f8"/>
<rect x="796" y="385" width="5" height="80" fill="#d8fafa"/>
<rect x="88" y="385" width="1" height="80" fill="#808080"/>
<rect x="205" y="385" width="1" height="80" fill="#808080"/>
<rect x="323" y="385" width="1" height="80" fill="#808080"/>
<rect x="441" y="385" width="1" height="80" fill="#808080"/>
<rect x="559" y="385" width="1" height="80" fill="#808080"/>
<rect x="677" y="385" width="1" height="80" fill="#808080"/>
<rect x="795" y="385" width="1" height="80" fill="#808080"/>
<rect x="801" y="384" width="1" height="81" fill="#808080"/>
<text transform="translate(8.25,403.00) scale(0.9500,1)" x="0.000 8.421 14.737 22.105 28.421 35.789" y="0" fill="#000" font-size="12" font-weight="bold" filter="url(#crisp)">Sensor</text>
<text transform="translate(8.25,419.00) scale(0.9800,1)" x="0.000 10.204 13.265 20.408 31.633 38.776 42.857" y="0" fill="#000" font-size="12" font-weight="bold" filter="url(#crisp)">MinWert</text>
<text transform="translate(8.25,435.00) scale(1.0000,1)" x="0.000 10.000 17.000 23.000 35.000 41.000 46.000" y="0" fill="#000" font-size="12" font-weight="bold" filter="url(#crisp)">MaxWert</text>
<text transform="translate(8.25,451.00) scale(0.9800,1)" x="0.000 8.163 16.327 20.408 27.551 34.694 41.837 47.959 55.102 62.245 66.327 70.408" y="0" fill="#000" font-size="12" font-weight="bold" filter="url(#crisp)">Durchschnitt</text>
<text transform="translate(8.25,467.00) scale(1.0500,1)" x="0.000 6.667 13.333 17.143 23.810 30.476 33.333 37.143 40.000 46.667 53.333 57.143 63.810" y="0" fill="#000" font-size="12" font-weight="bold" filter="url(#crisp)">24.01.  23:55</text>
<text transform="translate(95.25,403.00) scale(0.9550,1)" x="0.000 7.330 13.613 25.131 32.461 35.602 38.743 47.120" y="0" fill="#000" font-size="12" font-weight="bold" filter="url(#crisp)">Temp. A.</text>
<text transform="translate(184.25,403.00) scale(1.0600,1)" x="0.000 4.717" y="0" fill="#000" font-size="12" font-weight="bold" filter="url(#crisp)">°C</text>
<text transform="translate(100.50,419.00) scale(0.9000,1)" x="0.000 6.667 12.889 16.667 23.333" y="0" fill="#000" font-size="12" filter="url(#crisp5)" stroke="#000" stroke-width="0.15">00:00</text>
<text transform="translate(180.50,419.00) scale(0.9000,1)" x="0.000 4.444 10.667 14.444" y="0" fill="#000" font-size="12" filter="url(#crisp5)" stroke="#000" stroke-width="0.15">-5.7</text>
<text transform="translate(100.50,435.00) scale(0.9000,1)" x="0.000 6.667 12.889 16.667 23.333" y="0" fill="#000" font-size="12" filter="url(#crisp5)" stroke="#000" stroke-width="0.15">15:00</text>
<text transform="translate(180.50,435.00) scale(0.9000,1)" x="0.000 4.444 10.667 14.444" y="0" fill="#000" font-size="12" filter="url(#crisp5)" stroke="#000" stroke-width="0.15">-0.1</text>
<text transform="translate(174.50,451.00) scale(0.9000,1)" x="0.000 4.444 10.667 14.444 21.111" y="0" fill="#000" font-size="12" filter="url(#crisp5)" stroke="#000" stroke-width="0.15">-2.44</text>
<text transform="translate(177.25,467.00) scale(1.0600,1)" x="0.000 3.774 10.377 14.151" y="0" fill="#000" font-size="12" font-weight="bold" filter="url(#crisp)">-2.9</text>
<text transform="translate(212.25,403.00) scale(1.0000,1)" x="0.000 7.000 14.000 21.000 28.000 35.000 39.000 46.000 49.000 58.000" y="0" fill="#000" font-size="12" font-weight="bold" filter="url(#crisp)">Feuchte A.</text>
<text transform="translate(308.25,403.00) scale(0.8000,1)" x="0.000" y="0" fill="#000" font-size="12" font-weight="bold" filter="url(#crisp)">%</text>
<text transform="translate(218.50,419.00) scale(0.9000,1)" x="0.000 6.667 12.889 16.667 23.333" y="0" fill="#000" font-size="12" filter="url(#crisp5)" stroke="#000" stroke-width="0.15">00:05</text>
<text transform="translate(304.50,419.00) scale(0.9000,1)" x="0.000 6.667" y="0" fill="#000" font-size="12" filter="url(#crisp5)" stroke="#000" stroke-width="0.15">84</text>
<text transform="translate(218.50,435.00) scale(0.9000,1)" x="0.000 6.667 12.889 16.667 23.333" y="0" fill="#000" font-size="12" filter="url(#crisp5)" stroke="#000" stroke-width="0.15">00:00</text>
<text transform="translate(304.50,435.00) scale(0.9000,1)" x="0.000 6.667" y="0" fill="#000" font-size="12" filter="url(#crisp5)" stroke="#000" stroke-width="0.15">85</text>
<text transform="translate(304.50,451.00) scale(0.9000,1)" x="0.000 6.667" y="0" fill="#000" font-size="12" filter="url(#crisp5)" stroke="#000" stroke-width="0.15">84</text>
<text transform="translate(215.50,467.00) scale(0.9000,1)" x="0.000 6.222 10.000 16.667 23.333 26.667 33.333 36.667 46.667" y="0" fill="#000" font-size="12" filter="url(#crisp5)" stroke="#000" stroke-width="0.15">3.32 g/m³</text>
<text transform="translate(303.25,467.00) scale(1.0600,1)" x="0.000 6.604" y="0" fill="#000" font-size="12" font-weight="bold" filter="url(#crisp)">84</text>
<text transform="translate(330.25,403.00) scale(0.9600,1)" x="0.000 7.292 14.583 18.750 22.917 30.208 34.375 41.667 48.958" y="0" fill="#000" font-size="12" font-weight="bold" filter="url(#crisp)">Luftdruck</text>
<text transform="translate(413.25,403.00) scale(0.9800,1)" x="0.000 7.143 15.306" y="0" fill="#000" font-size="12" font-weight="bold" filter="url(#crisp)">hPa</text>
<text transform="translate(336.50,419.00) scale(0.9000,1)" x="0.000 6.667 12.889 16.667 23.333" y="0" fill="#000" font-size="12" filter="url(#crisp5)" stroke="#000" stroke-width="0.15">00:50</text>
<text transform="translate(401.50,419.00) scale(0.9000,1)" x="0.000 6.667 13.333 20.000 26.222 30.000" y="0" fill="#000" font-size="12" filter="url(#crisp5)" stroke="#000" stroke-width="0.15">1030.1</text>
<text transform="translate(336.50,435.00) scale(0.9000,1)" x="0.000 6.667 12.889 16.667 23.333" y="0" fill="#000" font-size="12" filter="url(#crisp5)" stroke="#000" stroke-width="0.15">08:50</text>
<text transform="translate(401.50,435.00) scale(0.9000,1)" x="0.000 6.667 13.333 20.000 26.222 30.000" y="0" fill="#000" font-size="12" filter="url(#crisp5)" stroke="#000" stroke-width="0.15">1037.2</text>
<text transform="translate(330.50,451.00) scale(0.9650,1)" x="0.000 5.181 12.021 15.544 22.798 29.016 37.306 43.523 46.632" y="0" fill="#000" font-size="12" filter="url(#crisp5)" stroke="#000" stroke-width="0.15">^5.5hPa/h</text>
<text transform="translate(401.50,451.00) scale(0.9000,1)" x="0.000 6.667 13.333 20.000 26.222 30.000" y="0" fill="#000" font-size="12" filter="url(#crisp5)" stroke="#000" stroke-width="0.15">1033.0</text>
<text transform="translate(330.50,467.00) scale(0.9000,1)" x="0.000 6.667 13.333 22.222 28.889 31.111 37.778" y="0" fill="#000" font-size="12" filter="url(#crisp5)" stroke="#000" stroke-width="0.15">bewölkt</text>
<text transform="translate(395.25,467.00) scale(1.0600,1)" x="0.000 6.604 13.208 19.811 26.415 30.189" y="0" fill="#000" font-size="12" font-weight="bold" filter="url(#crisp)">1035.9</text>
<text transform="translate(448.25,403.00) scale(0.9800,1)" x="0.000 11.224 14.286 22.449" y="0" fill="#000" font-size="12" font-weight="bold" filter="url(#crisp)">Wind</text>
<text transform="translate(523.25,403.00) scale(1.0600,1)" x="0.000 6.604 16.981 20.755" y="0" fill="#000" font-size="12" font-weight="bold" filter="url(#crisp)">km/h</text>
<path d="M449 410h6v1h-6zM449 411h2v1h-2zM453 411h2v1h-2zM449 412h2v1h-2zM453 412h2v1h-2zM449 413h2v1h-2zM452 413h3v1h-3zM449 414h1v1h-1zM452 414h1v1h-1zM454 414h1v1h-1zM449 415h1v1h-1zM451 415h2v1h-2zM454 415h1v1h-1zM449 416h1v1h-1zM451 416h1v1h-1zM454 416h1v1h-1zM449 417h2v1h-2zM454 417h1v1h-1zM449 418h6v1h-6z" fill="#000" shape-rendering="crispEdges"/>
<text transform="translate(458.50,419.00) scale(0.8700,1)" x="0.000 6.897 13.793 17.241 26.437 29.885 35.632" y="0" fill="#000" font-size="12" filter="url(#crisp5)" stroke="#000" stroke-width="0.15">10 min.</text>
<text transform="translate(537.50,419.00) scale(0.9000,1)" x="0.000 6.222 10.000" y="0" fill="#000" font-size="12" filter="url(#crisp5)" stroke="#000" stroke-width="0.15">0.0</text>
<text transform="translate(454.50,435.00) scale(0.9000,1)" x="0.000 6.667 12.889 16.667 23.333" y="0" fill="#000" font-size="12" filter="url(#crisp5)" stroke="#000" stroke-width="0.15">00:00</text>
<text transform="translate(506.50,435.00) scale(0.9000,1)" x="0.000 7.778 12.222 20.000 31.111 34.444 40.667 44.444" y="0" fill="#000" font-size="12" filter="url(#crisp5)" stroke="#000" stroke-width="0.15">S-SW 0.0</text>
<text transform="translate(537.50,451.00) scale(0.9000,1)" x="0.000 6.222 10.000" y="0" fill="#000" font-size="12" filter="url(#crisp5)" stroke="#000" stroke-width="0.15">0.0</text>
<text transform="translate(454.50,467.00) scale(0.8550,1)" x="0.000 7.018 10.526 17.544 21.053 24.561 28.070 36.257 39.766 47.953" y="0" fill="#000" font-size="12" filter="url(#crisp5)" stroke="#000" stroke-width="0.15">0 Bft S-SW</text>
<text transform="translate(535.25,467.00) scale(1.0600,1)" x="0.000 6.604 10.377" y="0" fill="#000" font-size="12" font-weight="bold" filter="url(#crisp)">0.0</text>
<text transform="translate(566.25,403.00) scale(1.0000,1)" x="0.000 9.000 12.000 19.000 26.000 30.000 37.000 45.000" y="0" fill="#000" font-size="12" font-weight="bold" filter="url(#crisp)">Richtung</text>
<text transform="translate(572.50,419.00) scale(0.9000,1)" x="0.000 6.667 12.889 16.667 23.333" y="0" fill="#000" font-size="12" filter="url(#crisp5)" stroke="#000" stroke-width="0.15">00:00</text>
<text transform="translate(641.50,419.00) scale(0.9000,1)" x="0.000 7.778 12.222 20.000" y="0" fill="#000" font-size="12" filter="url(#crisp5)" stroke="#000" stroke-width="0.15">S-SW</text>
<text transform="translate(572.50,435.00) scale(0.9000,1)" x="0.000 6.667 12.889 16.667 23.333" y="0" fill="#000" font-size="12" filter="url(#crisp5)" stroke="#000" stroke-width="0.15">00:00</text>
<text transform="translate(641.50,435.00) scale(0.9000,1)" x="0.000 7.778 12.222 20.000" y="0" fill="#000" font-size="12" filter="url(#crisp5)" stroke="#000" stroke-width="0.15">S-SW</text>
<text transform="translate(659.50,451.00) scale(0.9000,1)" x="0.000 4.444 7.778" y="0" fill="#000" font-size="12" filter="url(#crisp5)" stroke="#000" stroke-width="0.15">- -</text>
<text transform="translate(570.50,467.00) scale(0.9000,1)" x="0.000 6.667 13.333 20.000 23.333" y="0" fill="#000" font-size="12" filter="url(#crisp5)" stroke="#000" stroke-width="0.15">202 °</text>
<text transform="translate(637.25,467.00) scale(1.0400,1)" x="0.000 7.692 11.538 20.192" y="0" fill="#000" font-size="12" font-weight="bold" filter="url(#crisp)">S-SW</text>
<text transform="translate(684.25,403.00) scale(0.9650,1)" x="0.000 11.399 14.508 21.762 29.016 36.269 43.523 50.777" y="0" fill="#000" font-size="12" font-weight="bold" filter="url(#crisp)">Windböen</text>
<text transform="translate(759.25,403.00) scale(1.0600,1)" x="0.000 6.604 16.981 20.755" y="0" fill="#000" font-size="12" font-weight="bold" filter="url(#crisp)">km/h</text>
<path d="M685 410h6v1h-6zM685 411h2v1h-2zM689 411h2v1h-2zM685 412h2v1h-2zM689 412h2v1h-2zM685 413h2v1h-2zM688 413h3v1h-3zM685 414h1v1h-1zM688 414h1v1h-1zM690 414h1v1h-1zM685 415h1v1h-1zM687 415h2v1h-2zM690 415h1v1h-1zM685 416h1v1h-1zM687 416h1v1h-1zM690 416h1v1h-1zM685 417h2v1h-2zM690 417h1v1h-1zM685 418h6v1h-6z" fill="#000" shape-rendering="crispEdges"/>
<text transform="translate(694.50,419.00) scale(0.8700,1)" x="0.000 6.897 13.793 17.241 26.437 29.885 35.632" y="0" fill="#000" font-size="12" filter="url(#crisp5)" stroke="#000" stroke-width="0.15">10 min.</text>
<text transform="translate(773.50,419.00) scale(0.9000,1)" x="0.000 6.222 10.000" y="0" fill="#000" font-size="12" filter="url(#crisp5)" stroke="#000" stroke-width="0.15">0.0</text>
<text transform="translate(690.50,435.00) scale(0.9000,1)" x="0.000 6.667 12.889 16.667 23.333" y="0" fill="#000" font-size="12" filter="url(#crisp5)" stroke="#000" stroke-width="0.15">00:00</text>
<text transform="translate(742.50,435.00) scale(0.9000,1)" x="0.000 7.778 12.222 20.000 31.111 34.444 40.667 44.444" y="0" fill="#000" font-size="12" filter="url(#crisp5)" stroke="#000" stroke-width="0.15">S-SW 0.0</text>
<text transform="translate(773.50,451.00) scale(0.9000,1)" x="0.000 6.222 10.000" y="0" fill="#000" font-size="12" filter="url(#crisp5)" stroke="#000" stroke-width="0.15">0.0</text>
<text transform="translate(690.50,467.00) scale(0.8550,1)" x="0.000 7.018 10.526 17.544 21.053 24.561 28.070 36.257 39.766 47.953" y="0" fill="#000" font-size="12" filter="url(#crisp5)" stroke="#000" stroke-width="0.15">0 Bft S-SW</text>
<text transform="translate(771.25,467.00) scale(1.0600,1)" x="0.000 6.604 10.377" y="0" fill="#000" font-size="12" font-weight="bold" filter="url(#crisp)">0.0</text>
<path d="M390.5 458 L387 462 L389.5 462 L389.5 467 L391.5 467 L391.5 462 L394 462 Z" fill="#000"/>
<path d="M804 33h5v1h-5zM806 34h1v1h-1zM806 35h1v1h-1zM806 36h1v1h-1zM806 37h1v1h-1zM806 38h1v1h-1zM806 39h1v1h-1zM806 40h1v1h-1zM806 41h1v1h-1z" fill="#ff7070" shape-rendering="crispEdges"/>
<rect x="802" y="47" width="8" height="2" fill="#707070"/>
<rect x="802" y="111" width="8" height="3" fill="#00ff00"/>
<rect x="802" y="149" width="8" height="3" fill="#00ffff"/>
<rect x="802" y="165" width="8" height="2" fill="#ff7070"/>
<rect x="804" y="128" width="3" height="1" fill="#808080"/>
<rect x="804" y="208" width="3" height="1" fill="#808080"/>
<rect x="804" y="288" width="3" height="1" fill="#808080"/>
<rect x="804" y="368" width="3" height="1" fill="#808080"/>
<rect x="804" y="448" width="3" height="1" fill="#808080"/>
<rect x="803" y="328" width="2" height="2" fill="#808080"/>
<rect x="806" y="328" width="2" height="2" fill="#808080"/>
<rect x="806" y="379" width="4" height="1" fill="#00ff00"/>
</svg>
</body></html>
